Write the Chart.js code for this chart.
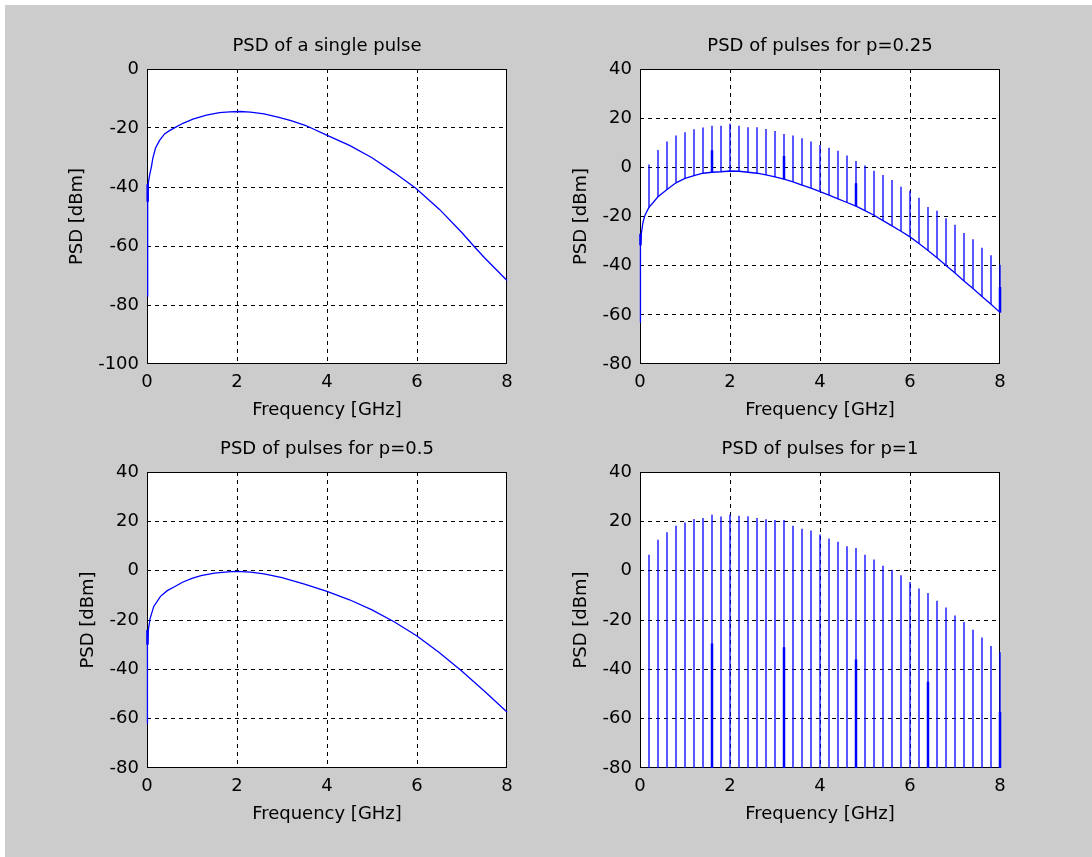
<!DOCTYPE html>
<html><head><meta charset="utf-8">
<script src="https://cdn.jsdelivr.net/npm/chart.js@4.4.1/dist/chart.umd.min.js"></script>
<style>
html,body{margin:0;padding:0;background:#fff;width:1092px;height:857px;overflow:hidden;}
#bg{position:absolute;left:5px;top:5px;width:1087px;height:852px;background:#cccccc;}
canvas{position:absolute;}
</style></head><body>
<div id="bg"></div>
<canvas id="c1" width="466" height="399" style="left:57px;top:25px"></canvas>
<canvas id="c2" width="466" height="399" style="left:550px;top:25px"></canvas>
<canvas id="c3" width="466" height="400" style="left:57px;top:428px"></canvas>
<canvas id="c4" width="466" height="400" style="left:550px;top:428px"></canvas>
<script>
// ---- tick labels ----
const xTicks = [0, 2, 4, 6, 8];
const yTicksSingle = [0, -20, -40, -60, -80, -100];
const yTicksPulses = [40, 20, 0, -20, -40, -60, -80];
const titles = ['PSD of a single pulse', 'PSD of pulses for p=0.25', 'PSD of pulses for p=0.5', 'PSD of pulses for p=1'];
const xLabel = 'Frequency [GHz]';
const yLabel = 'PSD [dBm]';

// ---- single pulse ----
const freqSingle = [0, 0.015, 0.03, 0.06, 0.10, 0.13, 0.19, 0.28, 0.39, 0.5, 0.65, 0.8, 1.02, 1.32, 1.61, 1.84, 2.06, 2.3, 2.6, 2.91, 3.2, 3.53, 3.65, 3.98, 4.5, 5.0, 5.5, 5.98, 6.5, 7.0, 7.26, 7.5, 8.0];
const psdSingle = [-77, -45, -38.6, -35.8, -33, -30.2, -26.8, -24.2, -22.0, -20.9, -19.6, -18.4, -17.0, -15.6, -14.8, -14.5, -14.4, -14.6, -15.2, -16.3, -17.5, -19.2, -20, -22.3, -25.9, -30.1, -35.2, -40.5, -47.6, -55.5, -60, -64, -71.7];
const thickFreqSingle = [0.015];
const thickLowSingle = [-45];
const thickHighSingle = [-39];

// ---- p = 0.25 continuous part ----
const freq025 = [0, 0.01, 0.03, 0.06, 0.1, 0.15, 0.2, 0.4, 0.6, 0.8, 1.0, 1.2, 1.4, 1.6, 1.8, 2.0, 2.2, 2.4, 2.6, 2.8, 3.0, 3.2, 3.4, 3.6, 3.8, 4.0, 4.2, 4.4, 4.6, 4.8, 5.0, 5.2, 5.4, 5.6, 5.8, 6.0, 6.2, 6.4, 6.6, 6.8, 7.0, 7.2, 7.4, 7.6, 7.8, 8.0];
const psd025 = [-63, -32, -27, -23, -20, -18, -16.3, -12, -9, -6.3, -4.5, -3.4, -2.4, -2.0, -1.8, -1.5, -1.6, -2.0, -2.4, -3.1, -3.9, -4.8, -5.9, -7.2, -8.5, -9.9, -11.3, -12.8, -14.3, -15.8, -17.6, -19.5, -21.7, -23.8, -26.0, -28.3, -31.0, -33.8, -36.8, -39.9, -43.0, -46.2, -49.3, -52.5, -55.7, -59.0];

// ---- spectral lines ----
const spikeFreq = [0.2, 0.4, 0.6, 0.8, 1.0, 1.2, 1.4, 1.6, 1.8, 2.0, 2.2, 2.4, 2.6, 2.8, 3.0, 3.2, 3.4, 3.6, 3.8, 4.0, 4.2, 4.4, 4.6, 4.8, 5.0, 5.2, 5.4, 5.6, 5.8, 6.0, 6.2, 6.4, 6.6, 6.8, 7.0, 7.2, 7.4, 7.6, 7.8, 8.0];
const peak025 = [1.2, 7.1, 10.5, 12.9, 14.3, 15.5, 16.2, 16.9, 16.9, 17.7, 16.9, 16.3, 16.3, 15.6, 14.8, 13.6, 12.9, 11.8, 10.5, 9.1, 8.0, 6.7, 4.8, 2.6, 0.7, -1.4, -3.1, -5.2, -7.9, -9.5, -12.4, -16.1, -17.7, -20.7, -23.4, -26.7, -29.3, -32.7, -35.8, -39.6];
const thickFreq025 = [0.01, 1.6, 3.2, 4.8, 8.0];
const thickLow025 = [-31.7, -2.0, -4.8, -15.8, -59];
const thickHigh025 = [-27, 7.0, 4.6, -6.5, -48.7];

// ---- p = 0.5 ----
const freq05 = [0, 0.01, 0.03, 0.07, 0.15, 0.3, 0.45, 0.6, 0.8, 1.0, 1.2, 1.5, 1.8, 2.0, 2.3, 2.6, 3.0, 3.5, 4.0, 4.5, 5.0, 5.5, 6.0, 6.5, 7.0, 7.5, 8.0];
const psd05 = [-62, -30, -24, -19.3, -14.5, -10.4, -8.1, -6.6, -4.6, -3.1, -2.0, -1.0, -0.5, -0.3, -0.6, -1.3, -2.8, -5.5, -8.4, -11.8, -15.9, -20.8, -26.5, -33.3, -40.8, -48.9, -57.3];
const thickFreq05 = [0.01];
const thickLow05 = [-30];
const thickHigh05 = [-24];

// ---- p = 1 ----
const peak1 = [6.5, 12.5, 15.6, 18.2, 19.5, 20.9, 21.4, 22.7, 22.0, 22.7, 22.3, 22.1, 21.4, 20.8, 20.5, 20.5, 18.2, 17.0, 16.3, 14.7, 13.0, 11.7, 9.9, 9.2, 6.5, 4.5, 2.0, 0.4, -1.9, -4.6, -7.2, -9.1, -12.2, -14.9, -18.2, -20.8, -24.0, -27.1, -30.5, -33.1];
const thickFreq1 = [1.6, 3.2, 4.8, 6.4, 8.0];
const thickHigh1 = [-29.5, -31, -36, -45, -57.3];

// ---- helpers ----
const BLUE = '#0000ff';
const FONT = {family: "'DejaVu Sans', 'Liberation Sans', Arial, sans-serif", size: 18, weight: 'normal', lineHeight: '22px'};
Chart.defaults.font.family = FONT.family;
Chart.defaults.color = '#000';

function pts(xs, ys) { return xs.map((x, i) => ({x: x, y: ys[i]})); }
function segs(xs, lo, hi) {
  const out = [];
  xs.forEach((x, i) => { out.push({x: x, y: lo[i]}, {x: x, y: hi[i]}, {x: x, y: null}); });
  return out;
}
function valueAt(xs, ys, f) { const i = xs.findIndex(v => Math.abs(v - f) < 1e-9); return ys[i]; }
function line(data, w) {
  return {data: data, showLine: true, borderColor: BLUE, backgroundColor: BLUE, borderWidth: w,
          pointRadius: 0, pointHoverRadius: 0, tension: 0, spanGaps: false, clip: 3};
}

const boxPlugin = {
  id: 'box',
  beforeDraw(chart) {
    const {ctx, chartArea: a} = chart;
    ctx.save(); ctx.fillStyle = '#fff';
    ctx.fillRect(a.left, a.top, a.right - a.left, a.bottom - a.top);
    ctx.restore();
  },
  beforeDatasetsDraw(chart) {
    const {ctx, chartArea: a} = chart;
    ctx.save(); ctx.strokeStyle = '#000'; ctx.lineWidth = 1; ctx.setLineDash([]);
    ctx.strokeRect(a.left + 0.5, a.top + 0.5, a.right - a.left - 1, a.bottom - a.top - 1);
    ctx.restore();
  }
};

function makeChart(id, title, yTicks, yTitlePad, datasets) {
  const yMin = Math.min(...yTicks), yMax = Math.max(...yTicks);
  const xMin = Math.min(...xTicks), xMax = Math.max(...xTicks);
  return new Chart(document.getElementById(id), {
    type: 'scatter',
    data: {datasets: datasets},
    options: {
      responsive: false, animation: false, devicePixelRatio: 1, events: [],
      layout: {padding: {left: 0, right: 16, top: 0, bottom: 0}},
      plugins: {
        legend: {display: false}, tooltip: {enabled: false},
        title: {display: true, text: title, fullSize: false, color: '#000', font: FONT, padding: {top: 10, bottom: 12}}
      },
      scales: {
        x: {
          type: 'linear', position: 'bottom', min: xMin, max: xMax,
          afterFit: s => { s.height = 60; },
          afterBuildTicks: s => { s.ticks = xTicks.map(v => ({value: v})); },
          ticks: {padding: 7, color: '#000', font: FONT, maxRotation: 0, autoSkip: false, callback: v => String(v)},
          grid: {drawTicks: false, lineWidth: 1,
                 color: c => (c.tick && (c.tick.value === xMin || c.tick.value === xMax)) ? 'rgba(0,0,0,0)' : '#000'},
          border: {display: false, dash: [4, 4]},
          title: {display: true, text: xLabel, color: '#000', font: FONT, padding: {top: 0, bottom: 3}}
        },
        y: {
          type: 'linear', position: 'left', min: yMin, max: yMax,
          afterFit: s => { s.width = 90; },
          afterBuildTicks: s => { s.ticks = yTicks.slice().sort((a, b) => a - b).map(v => ({value: v})); },
          ticks: {padding: 8, color: '#000', font: FONT, autoSkip: false, callback: v => String(v)},
          grid: {drawTicks: false, lineWidth: 1,
                 color: c => (c.tick && (c.tick.value === yMin || c.tick.value === yMax)) ? 'rgba(0,0,0,0)' : '#000'},
          border: {display: false, dash: [4, 4]},
          title: {display: true, text: yLabel, color: '#000', font: FONT, padding: {top: yTitlePad, bottom: 0}}
        }
      }
    },
    plugins: [boxPlugin]
  });
}

const yBottom = Math.min(...yTicksPulses);
const base025 = spikeFreq.map(f => valueAt(freq025, psd025, f));
const base1 = spikeFreq.map(() => yBottom);
const thickLow1 = thickFreq1.map(() => yBottom);

makeChart('c1', titles[0], yTicksSingle, 9, [
  line(pts(freqSingle, psdSingle), 1.3),
  line(segs(thickFreqSingle, thickLowSingle, thickHighSingle), 2.5)
]);
makeChart('c2', titles[1], yTicksPulses, 20, [
  line(pts(freq025, psd025), 1.3),
  line(segs(spikeFreq, base025, peak025), 1.3),
  line(segs(thickFreq025, thickLow025, thickHigh025), 2.5)
]);
makeChart('c3', titles[2], yTicksPulses, 20, [
  line(pts(freq05, psd05), 1.3),
  line(segs(thickFreq05, thickLow05, thickHigh05), 2.5)
]);
makeChart('c4', titles[3], yTicksPulses, 20, [
  line(segs(spikeFreq, base1, peak1), 1.3),
  line(segs(thickFreq1, thickLow1, thickHigh1), 2.5)
]);
</script>
</body></html>
